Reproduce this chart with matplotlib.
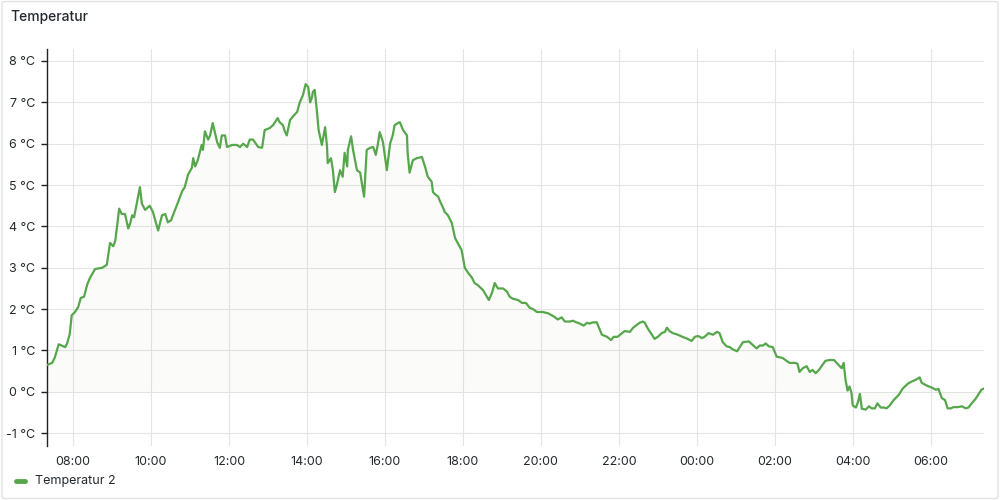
#temperature panel, one day from 07:20
import datetime as dt
import matplotlib
matplotlib.use("Agg")
import matplotlib.pyplot as plt
import matplotlib.dates as mdates
from matplotlib.patches import FancyBboxPatch

title = "Temperatur"
series_name = "Temperatur 2"
start = dt.datetime(2024, 1, 1, 7, 20)

# minutes since start, temperature in °C
minutes = [0, 8, 12, 18, 28, 31, 35, 38, 43, 48, 52, 57, 62, 66, 74, 85, 92, 97, 102, 105,
           109, 111, 115, 120, 125, 128, 131, 134, 138, 143, 146, 151, 158, 163, 171, 177, 182, 186, 191, 197,
           202, 208, 212, 217, 223, 225, 228, 232, 238, 240, 243, 248, 251, 255, 258, 262, 266, 269, 274, 277,
           285, 292, 297, 302, 308, 312, 317, 325, 331, 335, 343, 348, 355, 358, 363, 366, 369, 374, 378, 385,
           389, 394, 398, 402, 405, 408, 409, 412, 415, 418, 423, 428, 431, 432, 437, 440, 443, 446, 451, 455,
           458, 462, 463, 468, 471, 477, 482, 485, 488, 492, 497, 502, 506, 509, 512, 517, 523, 528, 532, 535,
           540, 543, 548, 554, 555, 558, 563, 569, 577, 582, 586, 592, 594, 597, 602, 605, 609, 612, 617, 623,
           628, 632, 638, 643, 648, 654, 658, 663, 671, 677, 680, 685, 689, 694, 702, 708, 712, 717, 725, 731,
           737, 743, 748, 754, 758, 763, 771, 777, 782, 786, 792, 797, 805, 809, 815, 820, 826, 831, 835, 840,
           846, 849, 854, 862, 868, 872, 878, 885, 889, 897, 902, 908, 912, 917, 920, 925, 931, 935, 940, 946,
           951, 954, 958, 963, 971, 978, 986, 992, 997, 1002, 1008, 1012, 1018, 1025, 1031, 1035, 1040, 1046, 1051, 1055,
           1062, 1066, 1071, 1080, 1085, 1092, 1097, 1102, 1106, 1111, 1117, 1123, 1132, 1138, 1143, 1151, 1155, 1158, 1163, 1169,
           1174, 1178, 1183, 1188, 1192, 1198, 1205, 1211, 1217, 1223, 1226, 1229, 1232, 1235, 1238, 1240, 1245, 1248, 1251, 1254,
           1260, 1265, 1269, 1274, 1278, 1283, 1288, 1292, 1297, 1303, 1311, 1317, 1325, 1331, 1338, 1343, 1346, 1354, 1362, 1368,
           1372, 1377, 1382, 1386, 1391, 1395, 1402, 1408, 1414, 1418, 1423, 1429, 1434, 1438, 1442]
temps = [0.65, 0.7, 0.83, 1.15, 1.08, 1.17, 1.4, 1.85, 1.93, 2.05, 2.27, 2.3, 2.6, 2.75, 2.97, 3.0, 3.07, 3.6, 3.52, 3.65,
         4.15, 4.43, 4.3, 4.3, 3.95, 4.07, 4.27, 4.22, 4.55, 4.95, 4.55, 4.4, 4.5, 4.35, 3.9, 4.27, 4.3, 4.1, 4.15, 4.4,
         4.6, 4.85, 4.95, 5.25, 5.42, 5.65, 5.45, 5.6, 5.97, 5.85, 6.3, 6.1, 6.2, 6.5, 6.3, 6.03, 5.9, 6.2, 6.2, 5.92,
         5.97, 5.97, 5.92, 6.0, 5.92, 6.1, 6.1, 5.92, 5.9, 6.33, 6.38, 6.45, 6.62, 6.52, 6.45, 6.3, 6.2, 6.57, 6.65, 6.77,
         7.0, 7.18, 7.44, 7.37, 7.0, 7.13, 7.25, 7.3, 6.85, 6.33, 5.97, 6.4, 5.92, 5.53, 5.65, 5.36, 4.83, 5.0, 5.36, 5.2,
         5.78, 5.45, 5.85, 6.18, 5.85, 5.36, 5.3, 5.0, 4.72, 5.85, 5.9, 5.92, 5.73, 5.97, 6.28, 6.04, 5.36, 6.0, 6.2, 6.45,
         6.5, 6.52, 6.33, 6.2, 5.78, 5.3, 5.6, 5.65, 5.68, 5.43, 5.2, 5.08, 4.83, 4.78, 4.72, 4.6, 4.47, 4.35, 4.27, 4.08,
         3.72, 3.6, 3.43, 3.0, 2.88, 2.76, 2.63, 2.58, 2.46, 2.3, 2.22, 2.4, 2.63, 2.5, 2.5, 2.42, 2.3, 2.25, 2.22, 2.15,
         2.15, 2.03, 2.0, 1.93, 1.93, 1.93, 1.9, 1.85, 1.8, 1.75, 1.8, 1.7, 1.7, 1.72, 1.68, 1.65, 1.6, 1.67, 1.65, 1.68,
         1.68, 1.57, 1.38, 1.33, 1.25, 1.33, 1.33, 1.42, 1.47, 1.45, 1.55, 1.62, 1.67, 1.7, 1.67, 1.52, 1.38, 1.28, 1.33, 1.42,
         1.45, 1.55, 1.47, 1.42, 1.38, 1.33, 1.28, 1.23, 1.33, 1.35, 1.3, 1.33, 1.42, 1.38, 1.45, 1.42, 1.2, 1.1, 1.08, 1.03,
         0.98, 1.08, 1.2, 1.22, 1.15, 1.05, 1.12, 1.12, 1.17, 1.1, 1.08, 0.85, 0.82, 0.75, 0.7, 0.7, 0.68, 0.48, 0.57, 0.62,
         0.48, 0.53, 0.45, 0.53, 0.62, 0.75, 0.77, 0.77, 0.67, 0.57, 0.7, 0.28, 0.03, 0.13, -0.02, -0.33, -0.38, -0.25, -0.05, -0.41,
         -0.43, -0.35, -0.4, -0.4, -0.28, -0.38, -0.38, -0.4, -0.33, -0.2, -0.07, 0.08, 0.2, 0.25, 0.3, 0.35, 0.22, 0.15, 0.1, 0.05,
         0.07, -0.15, -0.2, -0.4, -0.4, -0.37, -0.37, -0.35, -0.4, -0.38, -0.28, -0.17, -0.05, 0.05, 0.08]
y_ticks = [-1, 0, 1, 2, 3, 4, 5, 6, 7, 8]

plt.rcParams['font.family'] = ['Inter', 'DejaVu Sans']
green = '#56A64B'
text_col = '#24292e'

times = [start + dt.timedelta(minutes=m) for m in minutes]

fig = plt.figure(figsize=(10, 5), dpi=100)
fig.patches.append(FancyBboxPatch((0.002, 0.003), 0.996, 0.994, boxstyle="round,pad=0,rounding_size=0.004",
                                  transform=fig.transFigure, facecolor='none', edgecolor='#e2e3e5', lw=1,
                                  zorder=-1))
fig.text(0.01, 0.966, title, fontsize=10, fontweight='medium', color=text_col, va='center')

ax = fig.add_axes([0.047, 0.108, 0.937, 0.794])
ax.set_facecolor('none')
ax.plot(times, temps, color=green, lw=1.6, zorder=3)
ax.fill_between(times, temps, 0, color=green, alpha=0.025, lw=0, zorder=2)

ax.set_xlim(times[0], times[-1])
ax.set_ylim(-1.31, 8.29)
ax.set_yticks(y_ticks)
ax.set_yticklabels([f"{v} °C" for v in y_ticks])
ax.xaxis.set_major_locator(mdates.HourLocator(byhour=range(0, 24, 2)))
ax.xaxis.set_major_formatter(mdates.DateFormatter('%H:%M'))

ax.grid(True, color='#e4e4e4', lw=0.8, zorder=0)
for s in ['top', 'right', 'bottom']:
    ax.spines[s].set_visible(False)
ax.spines['left'].set_color('#202226')
ax.spines['left'].set_linewidth(1)
ax.tick_params(axis='y', length=4, width=1, color='#202226', pad=4.5, labelsize=9, labelcolor=text_col)
ax.tick_params(axis='x', length=0, pad=7, labelsize=9, labelcolor=text_col)

# legend
fig.add_artist(plt.Line2D([0.016, 0.025], [0.038, 0.038], color=green, lw=3.5, solid_capstyle='round'))
fig.text(0.035, 0.038, series_name, fontsize=9, color=text_col, va='center')

fig.savefig('out.png', dpi=100)
